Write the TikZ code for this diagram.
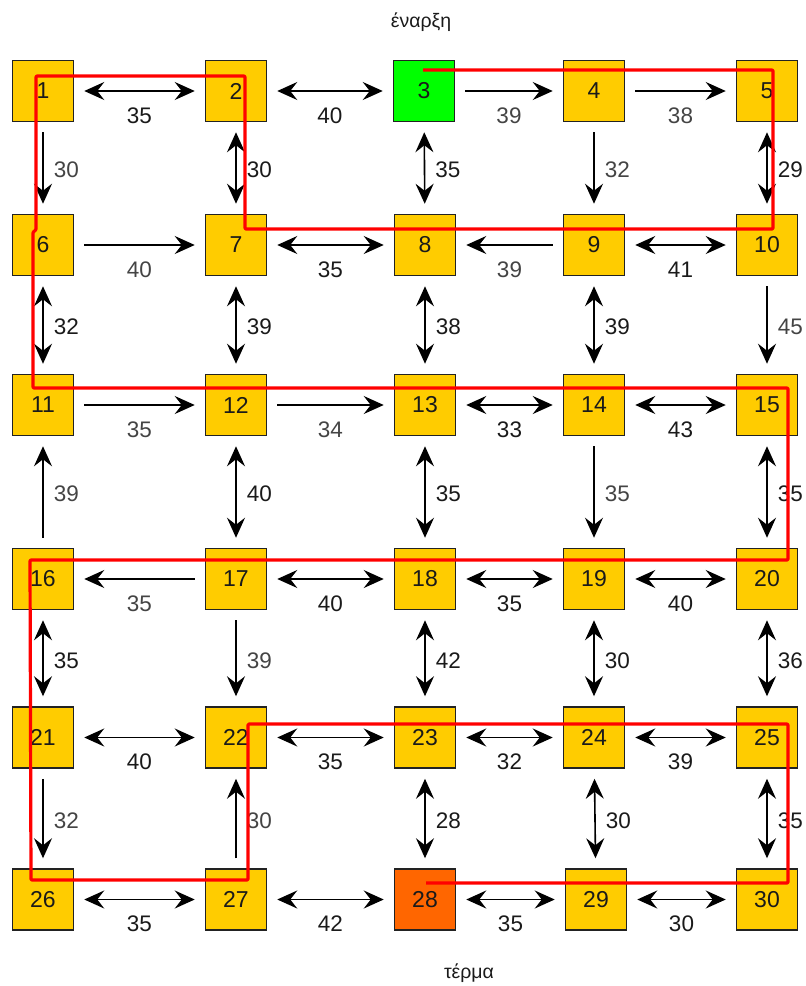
\documentclass[tikz,border=0pt]{standalone}
\usepackage{fontspec}
\setmainfont{Liberation Sans}
\usetikzlibrary{arrows.meta}
\definecolor{boxy}{HTML}{FFCC00}
\definecolor{startc}{HTML}{00FF00}
\definecolor{endc}{HTML}{FF6600}
\definecolor{lgray}{HTML}{444444}
\definecolor{ldark}{HTML}{1A1A1A}
\definecolor{bord}{HTML}{222222}
\newcommand\hl[4]{\draw[#3] (b#1) -- node[hlab#3] (t#1x#2) {#4} (b#2);}
\newcommand\vl[4]{\draw[#3] (b#1) -- node[vlab#3] (t#1x#2) {#4} (b#2);}
\begin{document}
\begin{tikzpicture}[x=1pt,y=-1pt,
  box/.style={draw=bord, line width=1.5pt, fill=boxy, minimum size=61pt, inner sep=0pt, text=ldark, font=\fontsize{23}{25}\selectfont},
  tip/.tip={Stealth[length=20pt,width=18pt,inset=7pt]},
  base/.style={line width=1.6pt, shorten >=10pt, shorten <=10pt},
  one/.style={base, -tip},
  two/.style={base, tip-tip},
  lab/.style={font=\fontsize{22.5}{24}\selectfont, inner sep=0pt},
  hlabone/.style={lab, text=lgray, midway, yshift=-24.5pt},
  hlabtwo/.style={lab, text=ldark, midway, yshift=-24.5pt},
  vlabone/.style={lab, text=lgray, midway, anchor=west, xshift=10pt, yshift=-2pt},
  vlabtwo/.style={lab, text=ldark, midway, anchor=west, xshift=10pt, yshift=-2pt},
  title/.style={font=\fontsize{19.5}{22}\selectfont, text=ldark, inner sep=0pt}
]
\useasboundingbox (0,0) rectangle (806,986);
% boxes
\node[box] (b1) at (43,91) {1};
\node[box] (b2) at (236,91) {2};
\node[box,fill=startc] (b3) at (424,91) {3};
\node[box] (b4) at (594,91) {4};
\node[box] (b5) at (767,91) {5};
\node[box] (b6) at (43,245) {6};
\node[box] (b7) at (236,245) {7};
\node[box] (b8) at (425,245) {8};
\node[box] (b9) at (594,245) {9};
\node[box] (b10) at (767,245) {10};
\node[box] (b11) at (43,405) {11};
\node[box] (b12) at (236,405) {12};
\node[box] (b13) at (425,405) {13};
\node[box] (b14) at (594,405) {14};
\node[box] (b15) at (767,405) {15};
\node[box] (b16) at (43,579) {16};
\node[box] (b17) at (236,579) {17};
\node[box] (b18) at (425,579) {18};
\node[box] (b19) at (594,579) {19};
\node[box] (b20) at (767,579) {20};
\node[box] (b21) at (43,737.5) {21};
\node[box] (b22) at (236,737.5) {22};
\node[box] (b23) at (425,737.5) {23};
\node[box] (b24) at (594,737.5) {24};
\node[box] (b25) at (767,737.5) {25};
\node[box] (b26) at (43,899.5) {26};
\node[box] (b27) at (236,899.5) {27};
\node[box,fill=endc] (b28) at (425,899.5) {28};
\node[box] (b29) at (596,899.5) {29};
\node[box] (b30) at (767,899.5) {30};
% titles
\node[title] (start) at (421,22) {έναρξη};
\node[title] (finish) at (469,973) {τέρμα};
% row 1
\hl{1}{2}{two}{35}
\hl{2}{3}{two}{40}
\hl{3}{4}{one}{39}
\hl{4}{5}{one}{38}
\vl{1}{6}{one}{30}
\vl{2}{7}{two}{30}
\vl{3}{8}{two}{35}
\vl{4}{9}{one}{32}
\vl{5}{10}{two}{29}
% row 2
\hl{6}{7}{one}{40}
\hl{7}{8}{two}{35}
\hl{9}{8}{one}{39}
\hl{9}{10}{two}{41}
\vl{6}{11}{two}{32}
\vl{7}{12}{two}{39}
\vl{8}{13}{two}{38}
\vl{9}{14}{two}{39}
\vl{10}{15}{one}{45}
% row 3
\hl{11}{12}{one}{35}
\hl{12}{13}{one}{34}
\hl{13}{14}{two}{33}
\hl{14}{15}{two}{43}
\vl{16}{11}{one}{39}
\vl{12}{17}{two}{40}
\vl{13}{18}{two}{35}
\vl{14}{19}{one}{35}
\vl{15}{20}{two}{35}
% row 4
\hl{17}{16}{one}{35}
\hl{17}{18}{two}{40}
\hl{18}{19}{two}{35}
\hl{19}{20}{two}{40}
\vl{16}{21}{two}{35}
\vl{17}{22}{one}{39}
\vl{18}{23}{two}{42}
\vl{19}{24}{two}{30}
\vl{20}{25}{two}{36}
% row 5
\hl{21}{22}{two}{40}
\hl{22}{23}{two}{35}
\hl{23}{24}{two}{32}
\hl{24}{25}{two}{39}
\vl{21}{26}{one}{32}
\vl{27}{22}{one}{30}
\vl{23}{28}{two}{28}
\vl{24}{29}{two}{30}
\vl{25}{30}{two}{35}
% row 6
\hl{26}{27}{two}{35}
\hl{27}{28}{two}{42}
\hl{28}{29}{two}{35}
\hl{29}{30}{two}{30}
% red route
\draw[red, line width=3.2pt, line join=round, rounded corners=1pt]
  (423,70) -- (773,70) -- (773,229) -- (245,229) -- (245,76) -- (36,76)
  -- (36,230) -- (33,232) -- (33,388) -- (788,388) -- (788,560) -- (30,560)
  -- (31,880) -- (248,880) -- (248,724) -- (788,724) -- (788,883) -- (426,883);
\end{tikzpicture}
\end{document}
